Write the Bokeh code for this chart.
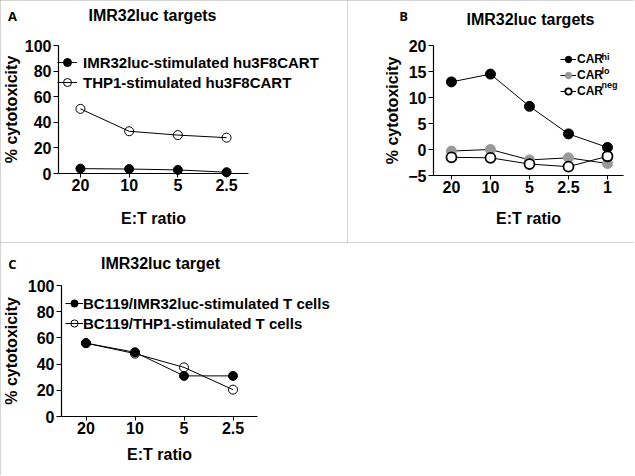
from bokeh.plotting import figure
from bokeh.models import Range1d, Legend, LegendItem, Label, FixedTicker, SingleIntervalTicker
from bokeh.layouts import column, row
from bokeh.embed import file_html
from bokeh.resources import INLINE

FONT = "Liberation Sans"
LETTER_FONT = "Open Sans"

# ---- data ----
ratios_a = ["20", "10", "5", "2.5"]
a_imr32 = [3.8, 3.5, 2.8, 1.0]
a_thp1 = [50.5, 33.0, 30.0, 28.0]

ratios_b = ["20", "10", "5", "2.5", "1"]
b_car_hi = [13.0, 14.5, 8.3, 3.0, 0.4]
b_car_lo = [-0.3, 0.0, -2.0, -1.6, -2.7]
b_car_neg = [-1.5, -1.6, -2.8, -3.3, -1.3]

ratios_c = ["20", "10", "5", "2.5"]
c_imr32 = [56.0, 49.0, 31.0, 31.0]
c_thp1 = [56.0, 48.0, 37.5, 20.5]

BORDER = {"outline": "1px solid #a8a8a8", "outline-offset": "-1px"}


def make_fig(cats, pad_l, pad_r, y0, y1, yint, w, h, box, xstand, ystand):
    """box = (left, right, top, bottom) pixel edges of the axes area inside the figure."""
    L, R, T, B = box
    xlo, xhi = -pad_l, len(cats) - 1 + pad_r
    sx = (R - L) / (xhi - xlo)
    sy = (B - T) / (y1 - y0)
    xs = list(range(len(cats)))
    p = figure(x_range=Range1d(xlo - L / sx, xhi + (w - R) / sx),
               y_range=Range1d(y0 - (h - B) / sy, y1 + T / sy),
               width=w, height=h, output_backend="svg", toolbar_location=None, min_border=0)
    p.outline_line_color = None
    p.grid.visible = False
    p.xaxis.ticker = FixedTicker(ticks=xs)
    p.xaxis.major_label_overrides = {i: c for i, c in zip(xs, cats)}
    p.yaxis.ticker = SingleIntervalTicker(interval=yint)
    p.xaxis.fixed_location = y0
    p.xaxis.bounds = (xlo, xhi)
    p.yaxis.fixed_location = xlo
    p.yaxis.bounds = (y0, y1)
    for ax in (p.xaxis[0], p.yaxis[0]):
        ax.axis_line_color = "black"
        ax.axis_line_width = 1.2
        ax.major_tick_line_color = "black"
        ax.major_tick_in = 0
        ax.minor_tick_line_color = None
        ax.major_label_text_font = FONT
        ax.major_label_text_font_style = "bold"
        ax.major_label_text_font_size = "16px"
        ax.major_label_text_color = "black"
        ax.axis_label_text_font = FONT
        ax.axis_label_text_font_style = "bold"
        ax.axis_label_text_font_size = "16px"
        ax.axis_label_text_color = "black"
    p.xaxis.major_tick_out = 4
    p.yaxis.major_tick_out = 5
    p.xaxis.major_label_standoff = 1
    p.yaxis.major_label_standoff = 2
    p.xaxis.axis_label = "E:T ratio"
    p.yaxis.axis_label = "% cytotoxicity"
    p.xaxis.axis_label_standoff = xstand
    p.yaxis.axis_label_standoff = ystand
    p.styles = BORDER
    return p, xs


def add_text(p, h, x, y, text, size, font=FONT, style="bold", align="center"):
    p.add_layout(Label(x=x, y=h - y, x_units="screen", y_units="screen", text=text,
                       text_align=align, text_baseline="middle", text_font=font,
                       text_font_style=style, text_font_size=size, text_color="black"))


def series(p, xs, ys, fill, line_w=1.0, size=9, mline="black"):
    lr = p.line(xs, ys, line_color="black", line_width=1.0)
    sr = p.scatter(xs, ys, marker="circle", size=size, fill_color=fill,
                   fill_alpha=(0 if fill is None else 1), line_color=mline, line_width=line_w)
    return [lr, sr]


def legend(items, loc, gw, gh, stand, spacing, size, lh):
    return Legend(items=items, location=loc, padding=0, margin=0, spacing=spacing,
                  glyph_width=gw, glyph_height=gh, label_height=lh, label_standoff=stand,
                  label_text_font=FONT, label_text_font_style="bold",
                  label_text_font_size=size, label_text_color="black",
                  background_fill_alpha=0, border_line_color=None)


# ---- Panel A ----
WA, HA = 347, 242
pa, xa = make_fig(ratios_a, 0.45, 0.45, 0, 100, 20, WA, HA, (58, 248, 45, 173), 16, 2)
ra1 = series(pa, xa, a_imr32, "black")
ra2 = series(pa, xa, a_thp1, None)
pa.add_layout(legend([LegendItem(label="IMR32luc-stimulated hu3F8CART", renderers=ra1),
                      LegendItem(label="THP1-stimulated hu3F8CART", renderers=ra2)],
                     (57, 150), 20, 20, 6, 0, "15px", 17))
add_text(pa, HA, 12, 15, "A", "13px", LETTER_FONT)
add_text(pa, HA, 152, 15, "IMR32luc targets", "16px")

# ---- Panel B ----
WB, HB = 287, 242
pb, xb = make_fig(ratios_b, 0.46, 0.41, -5, 20, 5, WB, HB, (86, 276, 45, 175), 14, 4)
rb1 = series(pb, xb, b_car_hi, "black", size=10)
rb2 = series(pb, xb, b_car_lo, "#999999", size=10, mline="#999999")
rb3 = series(pb, xb, b_car_neg, "white", line_w=1.8, size=10)
pb.add_layout(legend([LegendItem(label="CAR", renderers=rb1),
                      LegendItem(label="CAR", renderers=rb2),
                      LegendItem(label="CAR", renderers=rb3)],
                     (213, 143), 16, 16, 1, -2, "12px", 14))
for i, sup in enumerate(["hi", "lo", "neg"]):
    add_text(pb, HB, 254, 56 + 14 * i, sup, "9px", align="left")
add_text(pb, HB, 56, 15, "B", "13px", LETTER_FONT)
add_text(pb, HB, 183, 19, "IMR32luc targets", "16px")

# ---- Panel C ----
WC, HC = 634, 233
pc, xc = make_fig(ratios_c, 0.5, 0.5, 0, 100, 20, WC, HC, (61, 257, 43, 174), 9, 5)
rc2 = series(pc, xc, c_thp1, None)
rc1 = series(pc, xc, c_imr32, "black")
pc.add_layout(legend([LegendItem(label="BC119/IMR32luc-stimulated T cells", renderers=rc1),
                      LegendItem(label="BC119/THP1-stimulated T cells", renderers=rc2)],
                     (65, 142), 18, 20, 0, 0, "15px", 17))
add_text(pc, HC, 12, 21, "C", "13px", LETTER_FONT)
add_text(pc, HC, 160, 21, "IMR32luc target", "16px")

layout = column(row(pa, pb), pc)
open("out.html", "w").write(file_html(layout, INLINE))
